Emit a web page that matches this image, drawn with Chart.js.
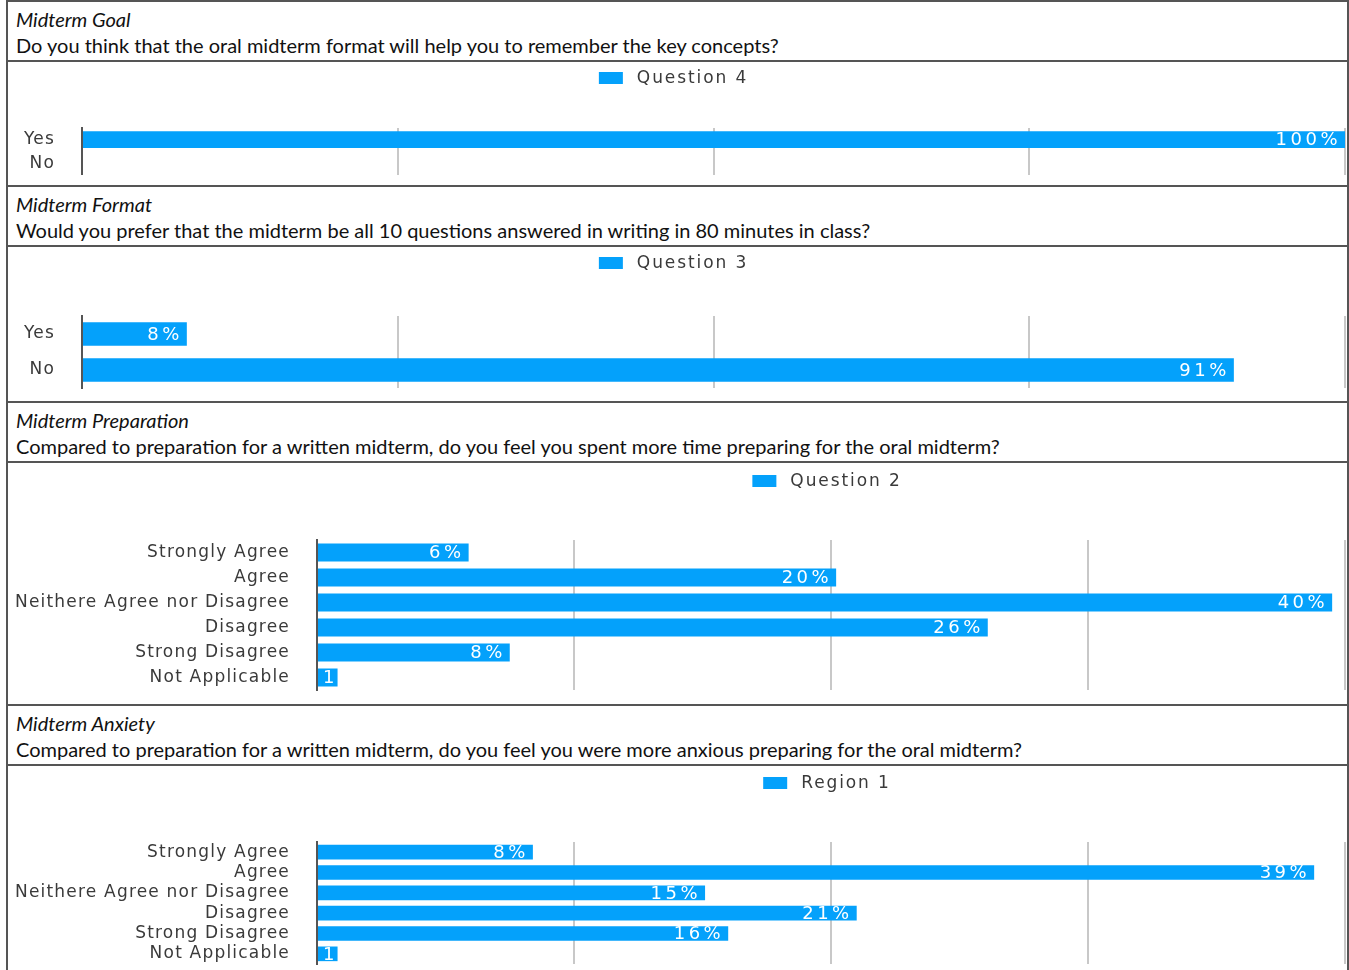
<!DOCTYPE html>
<html>
<head>
<meta charset="utf-8">
<script src="https://cdn.jsdelivr.net/npm/chart.js@4"></script>
<style>
  body { margin: 0; background: #fff; }
  #sheet { position: absolute; left: 6px; top: 0; width: 1343px; border: 2px solid #555; border-bottom: none; box-sizing: border-box; }
  .head { height: 60px; border-bottom: 2px solid #555; box-sizing: border-box; padding: 4px 0 0 8px;
          font-family: Lato, "Open Sans", sans-serif; font-size: 20px; line-height: 26px; color: #111; }
  .head i { display: block; }
  .plot { border-bottom: 2px solid #555; box-sizing: border-box; position: relative; }
  .plot div { position: absolute; left: 0; top: 0; right: 0; bottom: 0; }
</style>
</head>
<body>
<div id="sheet">
  <div class="head"><i>Midterm Goal</i>Do you think that the oral midterm format will help you to remember the key concepts?</div>
  <div class="plot" style="height:125px"><div><canvas id="c1"></canvas></div></div>
  <div class="head"><i>Midterm Format</i>Would you prefer that the midterm be all 10 questions answered in writing in 80 minutes in class?</div>
  <div class="plot" style="height:156px"><div><canvas id="c2"></canvas></div></div>
  <div class="head"><i>Midterm Preparation</i>Compared to preparation for a written midterm, do you feel you spent more time preparing for the oral midterm?</div>
  <div class="plot" style="height:243px"><div><canvas id="c3"></canvas></div></div>
  <div class="head"><i>Midterm Anxiety</i>Compared to preparation for a written midterm, do you feel you were more anxious preparing for the oral midterm?</div>
  <div class="plot" style="height:210px;border-bottom:none"><div><canvas id="c4"></canvas></div></div>
</div>
<script>
// answers
const yesNo = ['Yes', 'No'];
const likert = ['Strongly Agree', 'Agree', 'Neithere Agree nor Disagree', 'Disagree', 'Strong Disagree', 'Not Applicable'];

// percentages
const goalValues = [100, 0];
const formatValues = [8.3, 91.2];
const prepValues = [5.9, 20.2, 39.5, 26.1, 7.5, 0.8];
const anxietyValues = [8.4, 38.8, 15.1, 21.0, 16.0, 0.8];

const seriesNames = ['Question 4', 'Question 3', 'Question 2', 'Region 1'];

const BLUE = '#04a1fb';

// letter spaced text like the old Mac export
const spacing = {
  id: 'spacing',
  beforeDraw(chart) { chart.ctx.letterSpacing = '1.2px'; }
};

// legend drawn above the plot
const myLegend = {
  id: 'myLegend',
  afterDraw(chart, args, opts) {
    const ctx = chart.ctx, ds = chart.data.datasets[0];
    const area = chart.chartArea;
    ctx.save();
    ctx.letterSpacing = '1.9px';
    ctx.font = '17px "DejaVu Sans", sans-serif';
    const tw = ctx.measureText(ds.label).width;
    const w = 24 + 14 + tw;
    const cx = opts.centerOnArea ? (area.left + area.right) / 2 : chart.width / 2;
    const x = cx - w / 2 - 4;
    const y = area.top - opts.offset;
    ctx.fillStyle = ds.backgroundColor;
    ctx.fillRect(x, y - 6, 24, 12);
    ctx.fillStyle = '#3a3a3a';
    ctx.textBaseline = 'middle';
    ctx.fillText(ds.label, x + 38, y + 1);
    ctx.restore();
  }
};

// white % labels at the end of each bar
const barLabels = {
  id: 'barLabels',
  afterDatasetsDraw(chart) {
    const ctx = chart.ctx;
    const meta = chart.getDatasetMeta(0);
    const vals = chart.data.datasets[0].data;
    ctx.save();
    ctx.letterSpacing = '3.5px';
    ctx.font = '18px "DejaVu Sans", sans-serif';
    ctx.fillStyle = '#fff';
    ctx.textAlign = 'left';
    ctx.textBaseline = 'middle';
    meta.data.forEach((bar, i) => {
      const t = Math.round(vals[i]) + '%';
      const tw = ctx.measureText(t).width;
      const x = Math.max(bar.x - 4 - tw, chart.chartArea.left + 6);
      ctx.fillText(t, x, bar.y + 1);
    });
    ctx.restore();
  }
};

function makeChart(id, labels, values, name, o) {
  return new Chart(document.getElementById(id), {
    type: 'bar',
    data: {
      labels: labels,
      datasets: [{ label: name, data: values, backgroundColor: BLUE,
                   categoryPercentage: 1, barPercentage: o.bar }]
    },
    options: {
      indexAxis: 'y',
      responsive: true,
      maintainAspectRatio: false,
      animation: false,
      layout: { padding: { top: o.top, bottom: o.bottom, left: 0, right: 2 } },
      scales: {
        x: {
          min: 0, max: o.max,
          ticks: { display: false, stepSize: o.max / 4 },
          grid: { color: '#c8c8c8', lineWidth: 2, drawTicks: false },
          border: { display: false }
        },
        y: {
          grid: { color: 'rgba(0,0,0,0)', drawTicks: true, tickLength: 27 },
          border: { color: '#555', width: 2 },
          ticks: { color: '#3a3a3a', autoSkip: false,
                   font: { family: '"DejaVu Sans", sans-serif', size: 17 }, padding: 0 },
          afterFit(s) { s.width = o.axisW; }
        }
      },
      plugins: {
        legend: { display: false },
        tooltip: { enabled: false },
        myLegend: { offset: o.legendOffset, centerOnArea: o.centerOnArea }
      }
    },
    plugins: [spacing, myLegend, barLabels]
  });
}

makeChart('c1', yesNo, goalValues, seriesNames[0],
  { axisW: 74, top: 66, bottom: 10, max: 100, bar: 0.72, legendOffset: 50, centerOnArea: false });
makeChart('c2', yesNo, formatValues, seriesNames[1],
  { axisW: 74, top: 69, bottom: 13, max: 100, bar: 0.65, legendOffset: 53, centerOnArea: false });
makeChart('c3', likert, prepValues, seriesNames[2],
  { axisW: 309, top: 77, bottom: 14, max: 40, bar: 0.72, legendOffset: 59, centerOnArea: true });
makeChart('c4', likert, anxietyValues, seriesNames[3],
  { axisW: 309, top: 76, bottom: 12, max: 40, bar: 0.72, legendOffset: 59, centerOnArea: true });
</script>
</body>
</html>
